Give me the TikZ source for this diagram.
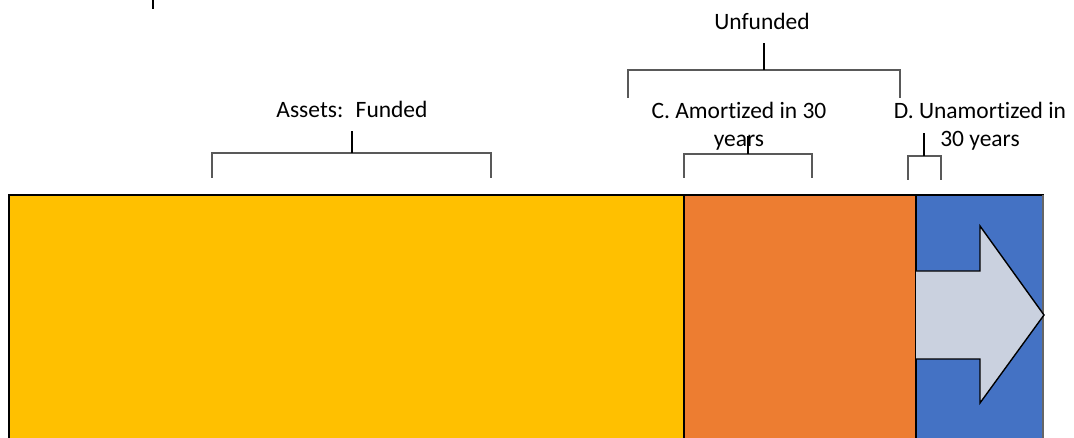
\documentclass[tikz,border=0pt]{standalone}
\usepackage{fontspec}
\setmainfont{Carlito}[Ligatures=NoCommon]
\usetikzlibrary{positioning}
\definecolor{fundedyellow}{HTML}{FFC000}
\definecolor{amortorange}{HTML}{ED7D31}
\definecolor{unamortblue}{HTML}{4472C4}
\definecolor{arrowgrey}{HTML}{CAD1DF}

\begin{document}
\begin{tikzpicture}[
        x=0.025cm, y=-0.025cm,
        bar/.style={draw=black, line width=0.9pt},
        lbl/.style={font=\fontsize{16.7}{20.4}\selectfont, align=center, inner sep=0pt, anchor=base},
        leg/.style={draw=black!65, line width=0.9pt},
        stem/.style={draw=black, line width=1.3pt}
    ]
        \useasboundingbox (0,0) rectangle (1074,438);

        % cut-off mark at the top
        \draw[line width=2pt] (153,0) -- (153,9);

        % Bars
        \filldraw[bar, fill=fundedyellow] (9,195) rectangle (684,450);
        \filldraw[bar, fill=amortorange] (684,195) rectangle (916,450);
        \filldraw[bar, fill=unamortblue] (916,195) rectangle (1043,450);
        \draw[black!60, line width=0.9pt] (1043,195) -- (1043,450);

        % Arrow in the blue part
        \filldraw[fill=arrowgrey, draw=black, line width=1pt, line join=miter]
            (916,271) -- (980,271) -- (980,226) -- (1044,315)
            -- (980,403) -- (980,359) -- (916,359);

        % Labels
        \node[lbl] (unfunded) at (762,30) {Unfunded};
        \node[lbl] (assets) at (352,118) {Assets:~ Funded};
        \node[lbl] (amort) at (739,147) {C. Amortized in 30\\years};
        \node[lbl] (unamort) at (980,147) {D. Unamortized in\\30 years};

        % Braces
        \coordinate (unfStem) at (764,70);
        \draw[leg] (628,98) |- (unfStem) -| (900,98);
        \draw[stem] (unfStem) -- ++(0,-27);

        \coordinate (assetsStem) at (352,153);
        \draw[leg] (212,178) |- (assetsStem) -| (491,178);
        \draw[stem] (assetsStem) -- ++(0,-22);

        \coordinate (amortStem) at (748,154);
        \draw[leg] (684,178) |- (amortStem) -| (812,178);
        \draw[stem] (amortStem) -- ++(0,-18);

        \coordinate (unamortStem) at (924,156);
        \draw[leg] (908,180) |- (unamortStem) -| (941,180);
        \draw[stem] (unamortStem) -- ++(0,-23);
    \end{tikzpicture}
\end{document}
